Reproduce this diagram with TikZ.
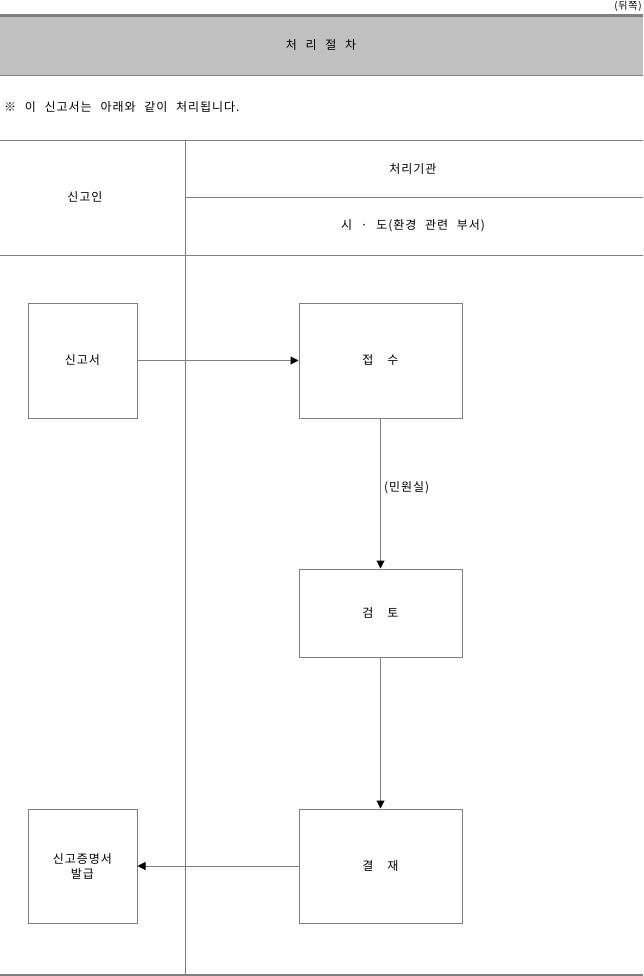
\documentclass[tikz,border=0pt]{standalone}
\usepackage{fontspec}
\setmainfont{Noto Sans CJK KR}[LetterSpace=8, WordSpace=2.4]
\usetikzlibrary{arrows.meta}

\definecolor{headfill}{RGB}{192,192,192}
\definecolor{rulegray}{RGB}{128,128,128}

\tikzset{
    rule/.style={draw=rulegray, line width=1pt},
    procbox/.style={draw=rulegray, line width=1pt, inner sep=0pt, minimum width=163pt, align=center},
    flow/.style={draw=rulegray, line width=1pt, -{Triangle[length=8pt, width=8pt, color=black]}},
}

\begin{document}
\begin{tikzpicture}[x=1pt, y=-1pt, font=\fontsize{12}{15}\selectfont]
    \useasboundingbox (0,0) rectangle (643,976);

    % header
    \fill[headfill] (0,16) rectangle (643,75);
    \draw[rule, line width=2.5pt] (0,15.5) -- (643,15.5);
    \draw[rule, line width=1.5pt] (0,75.5) -- (643,75.5);
    \node[anchor=north east, inner sep=0pt, font=\fontsize{10}{12}\selectfont] (back) at (642,1) {(뒤쪽)};
    \node (title) at (321,45) {처 리 절 차};
    \node[anchor=west, inner sep=0pt] (note) at (4,107) {※ 이 신고서는 아래와 같이 처리됩니다.};

    % table head
    \draw[rule] (0,141) -- (643,141);
    \draw[rule] (185,198) -- (643,198);
    \draw[rule] (0,255) -- (643,255);
    \draw[rule] (185,141) -- (185,975);
    \draw[rule, line width=2pt] (0,975) -- (643,975);
    \node (applicant) at (85,197) {신고인};
    \node (agency) at (413,169) {처리기관};
    \node (dept) at (413,226) {시 · 도(환경 관련 부서)};

    % applicant side
    \node[procbox, minimum width=109pt, minimum height=115pt] (form) at (82.5,360.5) {신고서};
    \node[procbox, minimum width=109pt, minimum height=114pt] (cert) at (82.5,866) {신고증명서\\발급};

    % agency side
    \node[procbox, minimum height=115pt] (receipt) at (380.5,360.5) {접\hspace{14pt}수};
    \node[procbox, minimum height=88pt] (review) at (380.5,613) {검\hspace{14pt}토};
    \node[procbox, minimum height=114pt] (approval) at (380.5,866) {결\hspace{14pt}재};

    % flow
    \draw[flow] (form) -- (receipt);
    \draw[flow] (receipt) -- node[pos=0.46, anchor=west, inner sep=3pt] (office) {(민원실)} (review);
    \draw[flow] (review) -- (approval);
    \draw[flow] (approval) -- (cert);

\end{tikzpicture}
\end{document}
